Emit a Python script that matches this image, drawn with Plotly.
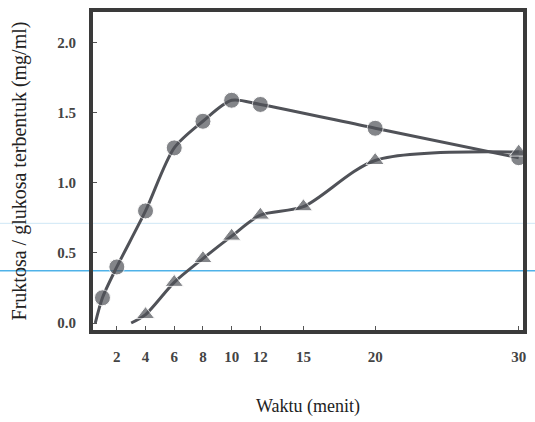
import plotly.graph_objects as go

# Data
time_fast = [0.5, 1, 2, 4, 6, 8, 10, 12, 20, 30]
conc_fast = [0.0, 0.18, 0.40, 0.80, 1.25, 1.44, 1.59, 1.56, 1.39, 1.18]
marker_fast = [0, 16, 16, 16, 16, 16, 16, 16, 16, 16]

time_slow = [3, 4, 6, 8, 10, 12, 15, 20, 30]
conc_slow = [0.0, 0.06, 0.29, 0.46, 0.62, 0.77, 0.83, 1.16, 1.22]
marker_slow = [0, 16, 16, 16, 16, 16, 16, 16, 16]

x_ticks = [2, 4, 6, 8, 10, 12, 15, 20, 30]
y_ticks = [0.0, 0.5, 1.0, 1.5, 2.0]
y_tick_text = ["0.0", "0.5", "1.0", "1.5", "2.0"]

ink = "#505258"

fig = go.Figure()
fig.add_trace(go.Scatter(
    x=time_fast, y=conc_fast, mode="lines+markers",
    line=dict(color=ink, width=3, shape="spline", smoothing=0.8),
    marker=dict(symbol="circle", size=marker_fast, color=ink),
    showlegend=False, cliponaxis=False))
fig.add_trace(go.Scatter(
    x=time_slow, y=conc_slow, mode="lines+markers",
    line=dict(color=ink, width=3, shape="spline", smoothing=0.8),
    marker=dict(symbol="triangle-up", size=marker_slow, color=ink),
    showlegend=False, cliponaxis=False))

# faint scan lines across the page
for yp, col, w in [(222, "rgba(120,190,230,0.35)", 1), (270, "rgba(60,170,230,0.9)", 1.5)]:
    fig.add_shape(type="line", xref="paper", yref="paper",
                  x0=-0.3, x1=1.1, y0=(330 - yp) / 322, y1=(330 - yp) / 322,
                  line=dict(color=col, width=w), layer="below")

fig.update_layout(
    width=535, height=422,
    margin=dict(l=93, r=8, t=8, b=92),
    paper_bgcolor="white", plot_bgcolor="white",
    font=dict(family="Liberation Serif", color="#333"),
    xaxis=dict(
        range=[0.34, 30.3], tickmode="array", tickvals=x_ticks,
        ticktext=[str(v) for v in x_ticks],
        showgrid=False, zeroline=False, showline=True, mirror=True,
        linecolor="#3a3a3a", linewidth=4, ticks="inside", ticklen=4,
        tickcolor="#555", ticklabelstandoff=10,
        tickfont=dict(family="Liberation Serif", size=15, color="#444", weight="bold"),
        title=dict(text="Waktu (menit)", standoff=36,
                   font=dict(family="Liberation Serif", size=18, color="#222")),
    ),
    yaxis=dict(
        range=[-0.05, 2.22], tickmode="array", tickvals=y_ticks, ticktext=y_tick_text,
        showgrid=False, zeroline=False, showline=True, mirror=True,
        linecolor="#3a3a3a", linewidth=4, ticks="inside", ticklen=4,
        tickcolor="#555", ticklabelstandoff=10,
        tickfont=dict(family="Liberation Serif", size=15, color="#444", weight="bold"),
        title=dict(text="Fruktosa / glukosa terbentuk (mg/ml)", standoff=26,
                   font=dict(family="Liberation Serif", size=20, color="#222")),
    ),
)

fig.write_html("out.html")
